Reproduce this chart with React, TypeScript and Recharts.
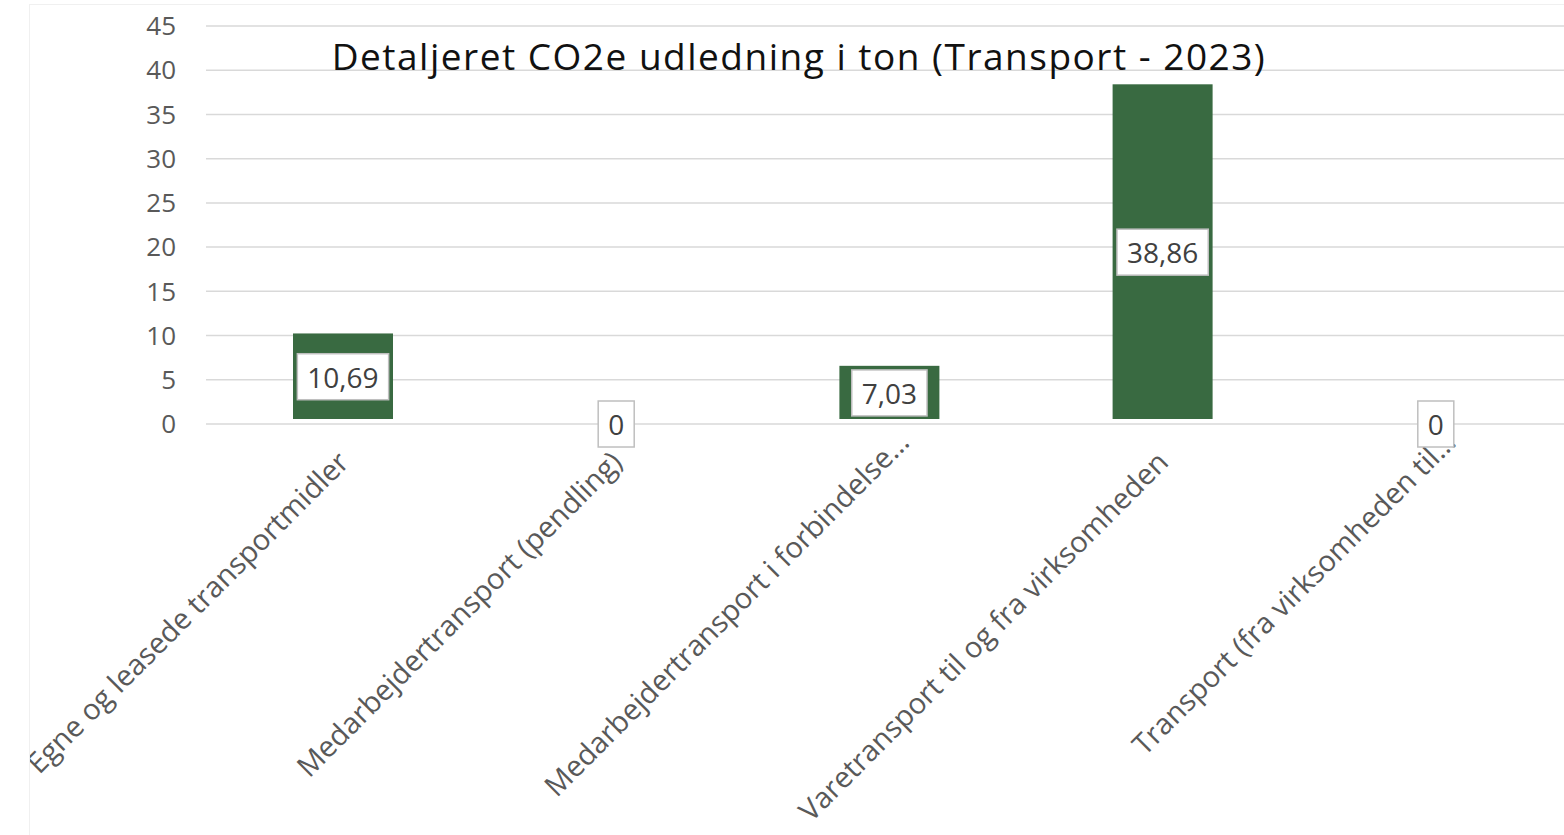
import React from "react";
import { Bar, BarChart, CartesianGrid, LabelList, XAxis, YAxis } from "recharts";

const categories = [
  "Egne og leasede transportmidler",
  "Medarbejdertransport (pendling)",
  "Medarbejdertransport i forbindelse…",
  "Varetransport til og fra virksomheden",
  "Transport (fra virksomheden til…",
];
const emissions = [10.69, 0, 7.03, 38.86, 0];
const yTicks = [0, 5, 10, 15, 20, 25, 30, 35, 40, 45];

const title = "Detaljeret CO2e udledning i ton (Transport - 2023)";

const data = categories.map((name, i) => ({ name, value: emissions[i] }));

const FONT = "'Open Sans', 'Noto Sans', sans-serif";
const GREEN = "#396a41";

let ctx: CanvasRenderingContext2D | null = null;
function measure(text: string, size: number) {
  if (!ctx) ctx = document.createElement("canvas").getContext("2d");
  if (!ctx) return text.length * size * 0.57;
  ctx.font = `${size}px 'Open Sans'`;
  return ctx.measureText(text).width;
}

const fmt = (v: number) => (v === 0 ? "0" : v.toFixed(2).replace(".", ","));

// bar drawn a little inside its slot, as in the source
const InsetBar = (props: any) => {
  const { x, y, width, height } = props;
  if (!height || height <= 0) return null;
  return <rect x={x} y={y + 4} width={width} height={Math.max(height - 9, 0)} fill={GREEN} />;
};

const ValueBox = (props: any) => {
  const { x, y, width, height, value } = props;
  const cx = Number(x) + Number(width) / 2;
  const cy = Number(y) + Number(height) / 2;
  const text = fmt(Number(value));
  const w = measure(text, 28) + 20;
  const h = 46;
  return (
    <g>
      <rect x={cx - w / 2} y={cy - h / 2} width={w} height={h} fill="#fff" stroke="#bfbfbf" strokeWidth={1.5} />
      <text x={cx} y={cy} textAnchor="middle" dominantBaseline="central" fontFamily={FONT} fontSize={28} fill="#404040">
        {text}
      </text>
    </g>
  );
};

const CategoryTick = (props: any) => {
  const { x, y, payload } = props;
  const label = String(payload.value);
  // Excel lets a truncated label's ellipsis run a bit past the tick
  const cut = label.endsWith("…");
  const ax = x + 8 + (cut ? 14 : 0);
  const ay = y + 40 - (cut ? 20 : 0);
  return (
    <text
      x={ax}
      y={ay}
      textAnchor="end"
      transform={`rotate(-45 ${ax} ${ay})`}
      fontFamily={FONT}
      fontSize={29}
      fill="#595959"
    >
      {label}
    </text>
  );
};

export default function App() {
  return (
    <div
      style={{
        position: "absolute",
        left: 29,
        top: 4,
        width: 1535,
        height: 831,
        overflow: "hidden",
        borderLeft: "1px solid #f0f0f0",
        borderTop: "1px solid #f0f0f0",
        background: "#fff",
      }}
    >
      <BarChart width={1542} height={830} data={data} margin={{ top: 21, right: 0, bottom: 0, left: 0 }}>
        <CartesianGrid vertical={false} stroke="#d9d9d9" strokeWidth={1.5} />
        <XAxis
          dataKey="name"
          interval={0}
          height={411}
          tickLine={false}
          axisLine={false}
          tickSize={0}
          tickMargin={0}
          tick={<CategoryTick />}
        />
        <YAxis
          width={176}
          domain={[0, 45]}
          ticks={yTicks}
          interval={0}
          tickLine={false}
          axisLine={false}
          tickSize={0}
          tickMargin={30}
          tick={{ fontFamily: FONT, fontSize: 26, fill: "#595959" }}
        />
        <Bar dataKey="value" barSize={100} fill={GREEN} shape={<InsetBar />} isAnimationActive={false}>
          <LabelList dataKey="value" content={<ValueBox />} />
        </Bar>
      </BarChart>
      <div
        style={{
          position: "absolute",
          left: 799 - 30,
          top: 32,
          transform: "translateX(-50%)",
          whiteSpace: "nowrap",
          fontFamily: FONT,
          fontSize: 37,
          letterSpacing: 1.5,
          lineHeight: 1,
          color: "#111",
        }}
      >
        {title}
      </div>
    </div>
  );
}
